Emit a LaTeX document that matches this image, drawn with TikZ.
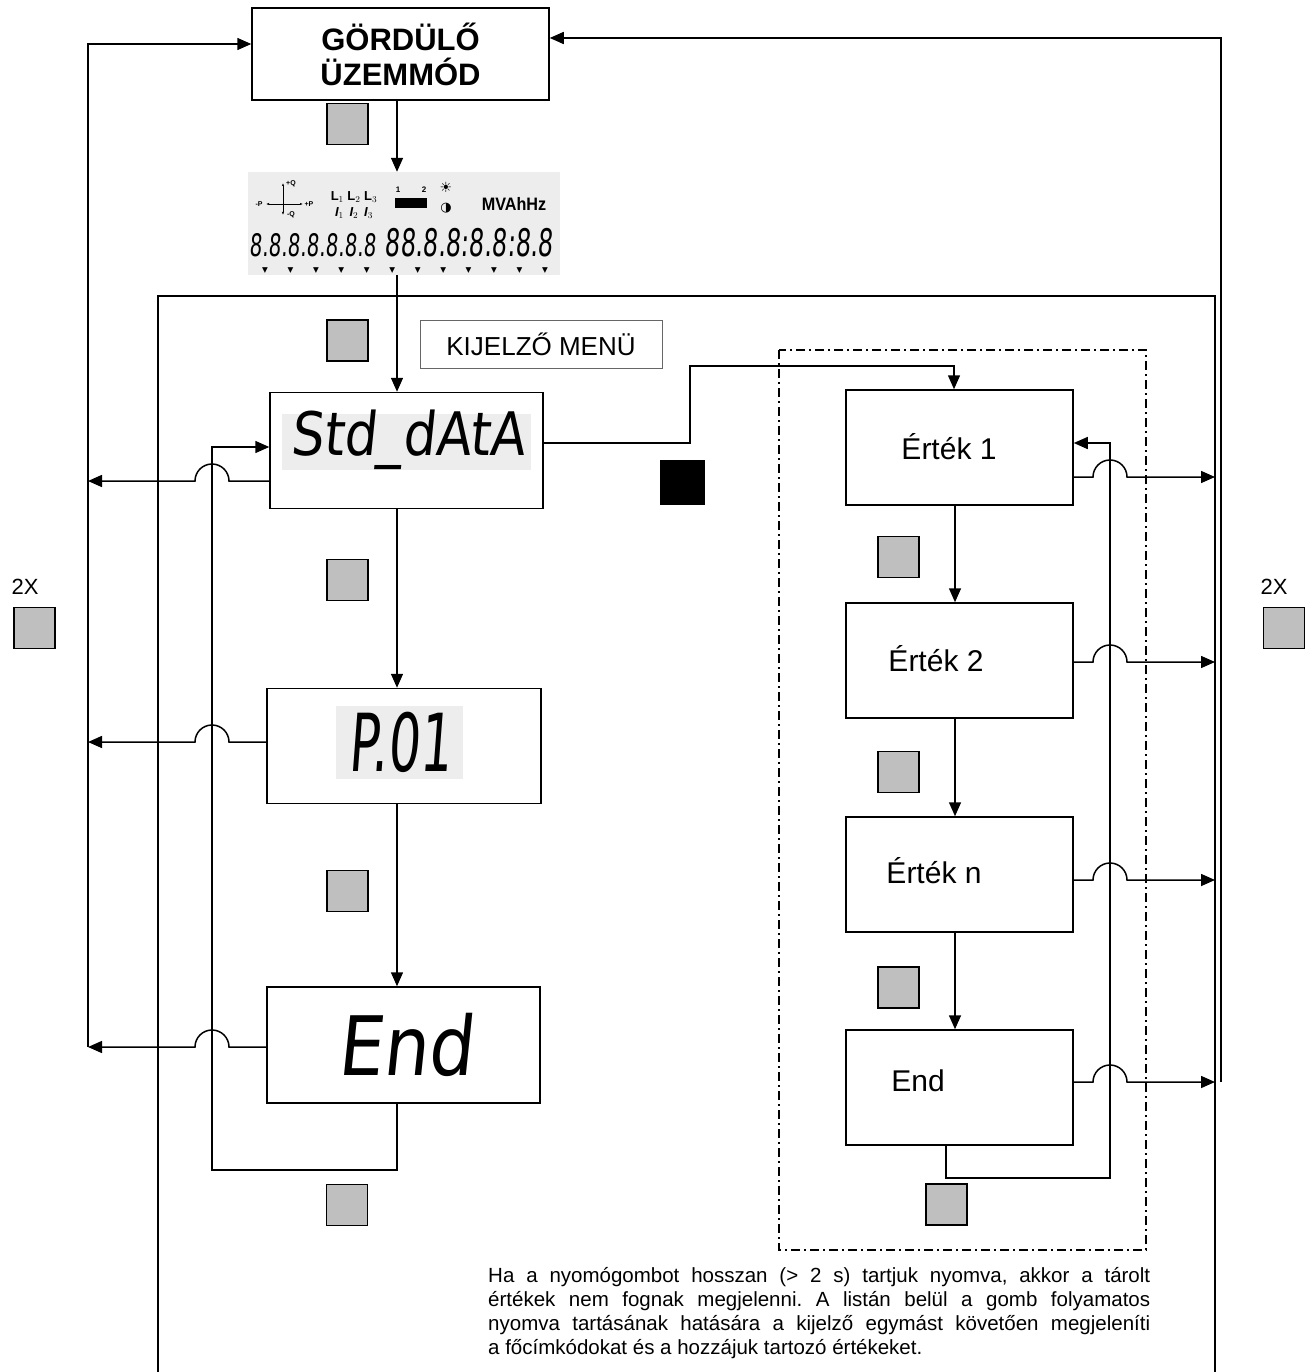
\documentclass[tikz,border=0pt]{standalone}
\usepackage{fontspec}
\usepackage{graphicx}
\setmainfont{Liberation Sans}
\newfontfamily\lcdfont[FakeSlant=0.12]{DejaVu Sans}
\newfontfamily\symfont{DejaVu Sans}
\usetikzlibrary{arrows.meta,calc}
\begin{document}
\begin{tikzpicture}[x=1pt,y=-1pt,
  ln/.style={line width=1.5pt},
  arr/.style={line width=1.5pt, -{Triangle[length=14pt,width=12pt]}},
  bx/.style={draw, line width=1.5pt, inner sep=0, fill=white},
  gsq/.style={draw, line width=1.3pt, fill=black!25, minimum size=41pt, inner sep=0},
  lcdbg/.style={fill=black!7, inner sep=0},
  ico/.style={inner sep=0, font=\bfseries\fontsize{#1}{#1}\selectfont},
  ico/.default=8,
  lbl/.style={inner sep=0, font=\fontsize{30}{32}\selectfont}]
\useasboundingbox (0,0) rectangle (1313,1372);

% big frame
\coordinate (fbl) at (158,1372);
\coordinate (ftl) at (158,296);
\coordinate (ftr) at (1215,296);
\coordinate (fbr) at (1215,1372);
\draw[ln] (fbl) -- (ftl) -- (ftr) -- (fbr);

% dash-dot frame
\draw[line width=1.4pt, dash pattern=on 9pt off 4pt on 2pt off 4pt] (779,350) rectangle (1146,1250);

% top box
\node[bx, minimum width=297pt, minimum height=92pt, align=center,
  font=\fontsize{31}{35}\selectfont\bfseries] (gord) at (400.5,54) {GÖRDÜLŐ\\ÜZEMMÓD};
\node[gsq] (g1) at (347.5,124) {};

% LCD panel
\node[lcdbg, minimum width=312pt, minimum height=103pt] (lcd) at (404,223.5) {};
\draw[line width=0.9pt, {Latex[length=3pt]}-{Latex[length=3pt]}] (266,204) -- (303,204);
\draw[line width=0.9pt, {Latex[length=3pt]}-{Latex[length=3pt]}] (283,183) -- (283,215);
\node[ico=7] (mp) at (259,204) {-P};
\node[ico=7] (pp) at (309,204) {+P};
\node[ico=7] (pq) at (291,184) {+Q};
\node[ico=7] (mq) at (291,215) {-Q};
\node[ico=13] (ll) at (354,197) {L$_1$ L$_2$ L$_3$};
\node[inner sep=0, font=\rmfamily\bfseries\itshape\fontsize{13}{13}\selectfont] (ii) at (354,213) {I$_1$ \,I$_2$ \,I$_3$};
\node[ico=8] (n1) at (398,190) {1};
\node[ico=8] (n2) at (424,190) {2};
\node[fill=black, minimum width=32pt, minimum height=10pt, inner sep=0] (bar) at (411,203) {};
\node[inner sep=0, font=\symfont\fontsize{14}{14}\selectfont] (bug) at (446,187) {☀};
\node[inner sep=0, font=\symfont\bfseries\fontsize{13}{13}\selectfont] (moon) at (446,208) {◑};
\node[ico=18] (units) at (514,204) {\scalebox{0.9}[1]{MVAhHz}};
\node[inner sep=0, font=\lcdfont\fontsize{31}{31}\selectfont] (dsmall) at (313,245) {\scalebox{0.64}[1]{8.8.8.8.8.8.8}};
\node[inner sep=0, font=\lcdfont\fontsize{38}{38}\selectfont] (dbig) at (469,243) {\scalebox{0.63}[1]{88.8.8:8.8:8.8}};
\foreach \i in {0,...,11}{
  \node[inner sep=0, font=\symfont\fontsize{7.5}{7.5}\selectfont] (tri\i) at (265+25.45*\i,270.5) {▼};
}

% left column boxes
\node[gsq] (g2) at (347.5,340.5) {};
\node[draw=black!60, line width=0.8pt, minimum width=242pt, minimum height=48pt, inner sep=0,
  font=\fontsize{26}{28}\selectfont] (kij) at (541,344) {KIJELZŐ MENÜ};

\node[bx, minimum width=273pt, minimum height=116pt] (std) at (406.5,450.5) {};
\node[lcdbg, minimum width=249pt, minimum height=56pt] (stdbg) at (406.5,442) {};
\node[inner sep=0, font=\lcdfont\fontsize{60}{60}\selectfont] (stdt) at (408,440) {\scalebox{0.86}[1]{Std\_dAtA}};

\node[gsq] (g3) at (347.5,580) {};

\node[bx, minimum width=274pt, minimum height=115pt] (p01) at (404,746) {};
\node[lcdbg, minimum width=127pt, minimum height=73pt] (p01bg) at (399.5,742.5) {};
\node[inner sep=0, font=\lcdfont\fontsize{80}{80}\selectfont] (p01t) at (400,742) {\scalebox{0.63}[1]{P.01}};

\node[gsq] (g4) at (347.5,891) {};

\node[bx, minimum width=273pt, minimum height=116pt] (endL) at (403.5,1045) {};
\node[inner sep=0, font=\lcdfont\fontsize{82}{82}\selectfont] (endt) at (405,1045) {\scalebox{0.87}[1]{End}};

\node[gsq] (g5) at (347,1205) {};

% black square
\node[fill=black, minimum size=45pt, inner sep=0] (blk) at (682.5,482.5) {};

% right column boxes
\node[bx, minimum width=227pt, minimum height=115pt] (e1) at (959.5,447.5) {};
\node[lbl] (t1) at (949,447) {Érték 1};
\node[gsq] (g6) at (898.5,557) {};
\node[bx, minimum width=227pt, minimum height=115pt] (e2) at (959.5,660.5) {};
\node[lbl] (t2) at (936,659) {Érték 2};
\node[gsq] (g7) at (898.5,772) {};
\node[bx, minimum width=227pt, minimum height=115pt] (e3) at (959.5,874.5) {};
\node[lbl] (t3) at (934,871) {Érték n};
\node[gsq] (g8) at (898.5,987.5) {};
\node[bx, minimum width=227pt, minimum height=115pt] (e4) at (959.5,1087.5) {};
\node[lbl] (t4) at (918,1081) {End};
\node[gsq] (g9) at (946.5,1204.5) {};

% 2X labels
\node[inner sep=0, font=\fontsize{22}{22}\selectfont] (x2l) at (25,587) {2X};
\node[gsq] (gl) at (34.5,628) {};
\node[inner sep=0, font=\fontsize{22}{22}\selectfont] (x2r) at (1274,587) {2X};
\node[gsq] (gr) at (1284,628) {};

% left column connectors
\coordinate (cL) at (397,0);
\draw[arr] (gord.south -| cL) -- (lcd.north -| cL);
\draw[arr] (lcd.south -| cL) -- (std.north -| cL);
\draw[arr] (std.south -| cL) -- (p01.north -| cL);
\draw[arr] (p01.south -| cL) -- (endL.north -| cL);
\coordinate (lb) at (212,1170);
\draw[arr] (endL.south -| cL) -- (cL |- lb) -- (lb) -- (212,447) -- (std.west |- 0,447);
\draw[arr] (std.west |- 0,481) -- (229,481) arc[start angle=0,end angle=180,radius=17pt] -- (88,481);
\draw[arr] (p01.west |- 0,742) -- (229,742) arc[start angle=0,end angle=180,radius=17pt] -- (88,742);
\draw[arr] (endL.west |- 0,1047) -- (229,1047) arc[start angle=0,end angle=180,radius=17pt] -- (88,1047);
\draw[arr] (88,1047) -- (88,44) -- (gord.west |- 0,44);

% right column connectors
\draw[arr] (std.east |- 0,443) -- (690,443) -- (690,366) -- (954,366) -- (e1.north -| 954,0);
\draw[arr] (e1.south -| 955,0) -- (e2.north -| 955,0);
\draw[arr] (e2.south -| 955,0) -- (e3.north -| 955,0);
\draw[arr] (e3.south -| 955,0) -- (e4.north -| 955,0);
\draw[arr] (e4.south -| 946,0) -- (946,1178) -- (1110,1178) -- (1110,443) -- (e1.east |- 0,443);
\draw[arr] (e1.east |- 0,477) -- (1093,477) arc[start angle=180,end angle=0,radius=17pt] -- (1215,477);
\draw[arr] (e2.east |- 0,662) -- (1093,662) arc[start angle=180,end angle=0,radius=17pt] -- (1215,662);
\draw[arr] (e3.east |- 0,880) -- (1093,880) arc[start angle=180,end angle=0,radius=17pt] -- (1215,880);
\draw[arr] (e4.east |- 0,1082) -- (1093,1082) arc[start angle=180,end angle=0,radius=17pt] -- (1215,1082);
\draw[arr] (1221,1082) -- (1221,38) -- (gord.east |- 0,38);

% note
\node[anchor=north west, inner sep=0, text width=662pt, align=justify,
  font=\frenchspacing\fontsize{20.5}{24}\selectfont] (note) at (488,1267)
  {Ha a nyomógombot hosszan (> 2 s) tartjuk nyomva, akkor a tárolt\linebreak
   értékek nem fognak megjelenni. A listán belül a gomb folyamatos\linebreak
   nyomva tartásának hatására a kijelző egymást követően megjeleníti\linebreak
   a főcímkódokat és a hozzájuk tartozó értékeket.};
\end{tikzpicture}
\end{document}
